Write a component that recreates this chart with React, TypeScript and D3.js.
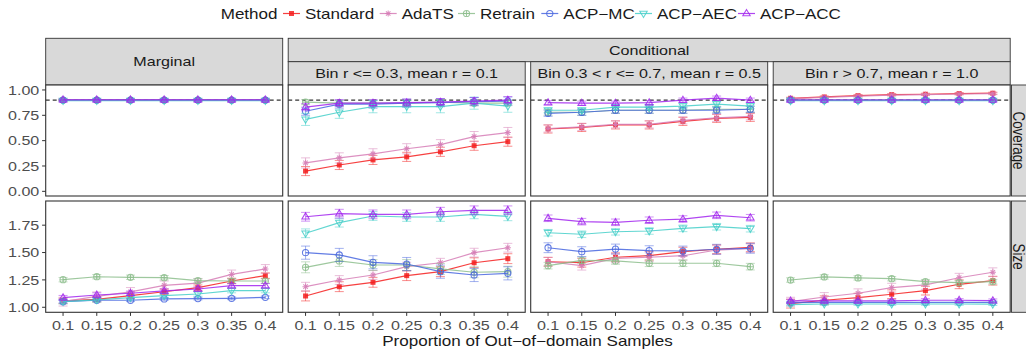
import React, { useEffect } from "react";
import * as d3 from "d3";

// ---------------- data ----------------
const methods = ["Standard", "AdaTS", "Retrain", "ACP−MC", "ACP−AEC", "ACP−ACC"];
const methodColors = ["#F41E1E", "#D67DB6", "#8DBE8D", "#4866DF", "#45CFC9", "#A226EE"];
const methodShapes = ["square", "asterisk", "circleplus", "circle", "triangleDown", "triangleUp"];
const xLabels = ["0.1", "0.15", "0.2", "0.25", "0.3", "0.35", "0.4"];
const panelTitles = ["Bin r <= 0.3, mean r = 0.1", "Bin 0.3 < r <= 0.7, mean r = 0.5", "Bin r > 0.7, mean r = 1.0"];
const covTicks = [0, 0.25, 0.5, 0.75, 1.0];
const sizeTicks = [1.0, 1.25, 1.5, 1.75];
const targetCoverage = 0.9;

// coverage, rows in methods order
const covMarginal = [
  [0.9, 0.9, 0.9, 0.9, 0.9, 0.9, 0.9],
  [0.9, 0.9, 0.9, 0.9, 0.9, 0.9, 0.9],
  [0.9, 0.9, 0.9, 0.9, 0.9, 0.9, 0.9],
  [0.9, 0.9, 0.9, 0.9, 0.9, 0.9, 0.9],
  [0.895, 0.895, 0.895, 0.895, 0.895, 0.895, 0.895],
  [0.903, 0.903, 0.903, 0.903, 0.903, 0.903, 0.903],
];
const covMarginalErr = [0.008, 0.008, 0.008, 0.008, 0.008, 0.008];
const covBin1 = [
  [0.2, 0.26, 0.31, 0.34, 0.39, 0.45, 0.49],
  [0.28, 0.33, 0.37, 0.42, 0.46, 0.54, 0.58],
  [0.88, 0.87, 0.87, 0.87, 0.88, 0.87, 0.87],
  [0.79, 0.86, 0.86, 0.87, 0.875, 0.885, 0.89],
  [0.71, 0.78, 0.835, 0.835, 0.835, 0.87, 0.84],
  [0.83, 0.87, 0.87, 0.875, 0.88, 0.89, 0.9],
];
const covBin1Err = [0.045, 0.05, 0.025, 0.04, 0.06, 0.035];
const covBin2 = [
  [0.615, 0.63, 0.655, 0.655, 0.69, 0.72, 0.73],
  [0.62, 0.635, 0.66, 0.66, 0.7, 0.725, 0.74],
  [0.78, 0.78, 0.8, 0.8, 0.8, 0.81, 0.81],
  [0.77, 0.78, 0.8, 0.8, 0.8, 0.8, 0.81],
  [0.8, 0.8, 0.83, 0.83, 0.84, 0.86, 0.84],
  [0.875, 0.87, 0.87, 0.875, 0.9, 0.92, 0.9],
];
const covBin2Err = [0.04, 0.035, 0.03, 0.03, 0.025, 0.02];
const covBin3 = [
  [0.918, 0.931, 0.944, 0.954, 0.958, 0.964, 0.968],
  [0.915, 0.926, 0.94, 0.95, 0.955, 0.96, 0.963],
  [0.9, 0.9, 0.9, 0.9, 0.9, 0.9, 0.9],
  [0.9, 0.9, 0.9, 0.9, 0.9, 0.9, 0.9],
  [0.894, 0.894, 0.894, 0.894, 0.894, 0.894, 0.894],
  [0.901, 0.901, 0.901, 0.901, 0.901, 0.901, 0.901],
];
const covBin3Err = [0.01, 0.01, 0.008, 0.008, 0.008, 0.008];

// size
const sizeMarginal = [
  [1.058, 1.073, 1.106, 1.142, 1.179, 1.24, 1.289],
  [1.051, 1.1, 1.14, 1.2, 1.22, 1.3, 1.35],
  [1.252, 1.279, 1.274, 1.27, 1.243, 1.24, 1.24],
  [1.051, 1.064, 1.064, 1.076, 1.079, 1.082, 1.091],
  [1.051, 1.067, 1.088, 1.106, 1.121, 1.152, 1.152],
  [1.088, 1.112, 1.128, 1.149, 1.167, 1.197, 1.197],
];
const sizeMarginalErr = [0.025, 0.04, 0.02, 0.012, 0.02, 0.02];
const sizeBin1 = [
  [1.103, 1.188, 1.228, 1.289, 1.325, 1.407, 1.444],
  [1.188, 1.249, 1.295, 1.371, 1.407, 1.499, 1.544],
  [1.365, 1.423, 1.386, 1.386, 1.35, 1.32, 1.325],
  [1.499, 1.478, 1.411, 1.395, 1.325, 1.295, 1.31],
  [1.676, 1.773, 1.834, 1.825, 1.825, 1.849, 1.831],
  [1.827, 1.855, 1.849, 1.849, 1.873, 1.886, 1.886],
];
const sizeBin1Err = [0.045, 0.04, 0.05, 0.06, 0.04, 0.04];
const sizeBin2 = [
  [1.416, 1.407, 1.457, 1.471, 1.508, 1.53, 1.548],
  [1.416, 1.38, 1.447, 1.457, 1.471, 1.523, 1.539],
  [1.38, 1.429, 1.423, 1.402, 1.402, 1.402, 1.371],
  [1.544, 1.508, 1.532, 1.517, 1.514, 1.53, 1.539],
  [1.681, 1.667, 1.69, 1.697, 1.721, 1.736, 1.718],
  [1.813, 1.782, 1.776, 1.795, 1.806, 1.84, 1.818],
];
const sizeBin2Err = [0.04, 0.04, 0.03, 0.045, 0.03, 0.03];
const sizeBin3 = [
  [1.033, 1.064, 1.088, 1.119, 1.152, 1.21, 1.243],
  [1.051, 1.094, 1.128, 1.179, 1.204, 1.27, 1.32],
  [1.249, 1.277, 1.268, 1.261, 1.234, 1.225, 1.234],
  [1.042, 1.045, 1.045, 1.045, 1.045, 1.045, 1.045],
  [1.025, 1.03, 1.03, 1.03, 1.03, 1.03, 1.028],
  [1.058, 1.058, 1.058, 1.058, 1.064, 1.064, 1.061],
];
const sizeBin3Err = [0.04, 0.04, 0.02, 0.012, 0.012, 0.015];

// ---------------- layout ----------------
const W = 1026;
const H = 356;
const SX = 1.2; // horizontal text stretch of the reference
const FONT = "'Liberation Sans', Arial, Helvetica, sans-serif";
const panelLefts = [45.7, 288.2, 530.7, 773.2];
const panelW = 237;
const covTop = 85, covBottom = 196;
const sizeTop = 201, sizeBottom = 312.3;
const stripTop = 38.3, stripMid = 61.7;

const covData = [covMarginal, covBin1, covBin2, covBin3];
const covErr = [covMarginalErr, covBin1Err, covBin2Err, covBin3Err];
const sizeData = [sizeMarginal, sizeBin1, sizeBin2, sizeBin3];
const sizeErr = [sizeMarginalErr, sizeBin1Err, sizeBin2Err, sizeBin3Err];

const yCov = d3.scaleLinear().domain([-0.046, 1.049]).range([covBottom, covTop]);
const ySize = d3.scaleLinear().domain([0.954, 1.971]).range([sizeBottom, sizeTop]);

function T(props: any) {
  const { x, y, anchor = "start", size = 13.4, color = "#1a1a1a", rotate, dy, children } = props;
  return (
    <text
      transform={`translate(${x},${y}) scale(${SX},1)${rotate ? ` rotate(${rotate})` : ""}`}
      textAnchor={anchor}
      fontSize={size}
      fill={color}
      fontFamily={FONT}
      dy={dy}
    >
      {children}
    </text>
  );
}

function Marker({ shape, x, y, color }: any) {
  const r = 3.1;
  const sw = 1.05;
  if (shape === "square")
    return <rect x={x - 2.5} y={y - 2.5} width={5} height={5} fill={color} />;
  if (shape === "asterisk") {
    const d = r * 0.72;
    return (
      <path
        d={`M${x - r},${y}L${x + r},${y}M${x},${y - r}L${x},${y + r}M${x - d},${y - d}L${x + d},${y + d}M${x - d},${y + d}L${x + d},${y - d}`}
        stroke={color}
        strokeWidth={sw}
        fill="none"
      />
    );
  }
  if (shape === "circleplus")
    return (
      <g stroke={color} strokeWidth={sw} fill="none">
        <circle cx={x} cy={y} r={r} />
        <path d={`M${x - r},${y}L${x + r},${y}M${x},${y - r}L${x},${y + r}`} />
      </g>
    );
  if (shape === "circle")
    return <circle cx={x} cy={y} r={r} stroke={color} strokeWidth={sw} fill="none" />;
  const s = 3.9;
  if (shape === "triangleUp")
    return (
      <path
        d={`M${x},${y - s}L${x + s * 0.95},${y + s * 0.6}L${x - s * 0.95},${y + s * 0.6}Z`}
        stroke={color}
        strokeWidth={sw}
        fill="none"
      />
    );
  return (
    <path
      d={`M${x},${y + s}L${x + s * 0.95},${y - s * 0.6}L${x - s * 0.95},${y - s * 0.6}Z`}
      stroke={color}
      strokeWidth={sw}
      fill="none"
    />
  );
}

function Panel({ left, top, bottom, yScale, values, errs, dashed }: any) {
  const x = d3.scaleLinear().domain([-0.515, 6.515]).range([left, left + panelW]);
  const line = d3
    .line<number>()
    .x((_, i) => x(i))
    .y((v) => yScale(v));
  return (
    <g>
      <rect x={left} y={top} width={panelW} height={bottom - top} fill="#fff" />
      {dashed && (
        <line
          x1={left}
          x2={left + panelW}
          y1={yScale(targetCoverage)}
          y2={yScale(targetCoverage)}
          stroke="#000"
          strokeWidth={1}
          strokeDasharray="4,3"
        />
      )}
      {values.map((series: number[], m: number) => (
        <g key={m}>
          <g stroke={methodColors[m]} strokeOpacity={0.5} strokeWidth={1}>
            {series.map((v, i) => {
              const e = errs[m];
              const xi = x(i);
              const y1 = yScale(v - e);
              const y2 = yScale(v + e);
              return (
                <path
                  key={i}
                  d={`M${xi},${y1}L${xi},${y2}M${xi - 4.5},${y1}L${xi + 4.5},${y1}M${xi - 4.5},${y2}L${xi + 4.5},${y2}`}
                  fill="none"
                />
              );
            })}
          </g>
          <path d={line(series) || ""} fill="none" stroke={methodColors[m]} strokeWidth={1.2} strokeOpacity={0.85} />
          <g opacity={0.85}>
            {series.map((v, i) => (
              <Marker key={i} shape={methodShapes[m]} x={x(i)} y={yScale(v)} color={methodColors[m]} />
            ))}
          </g>
        </g>
      ))}
      <rect x={left} y={top} width={panelW} height={bottom - top} fill="none" stroke="#333" strokeWidth={1.1} />
    </g>
  );
}

const legendTextX = [305, 401.7, 480, 563.3, 657, 760];

export default function App() {
  useEffect(() => {
    document.body.style.margin = "0";
  }, []);
  const xTickScale = (left: number) => d3.scaleLinear().domain([-0.515, 6.515]).range([left, left + panelW]);
  return (
    <svg width={W} height={H} style={{ position: "absolute", left: 0, top: 0 }} xmlns="http://www.w3.org/2000/svg">
      <rect x={0} y={0} width={W} height={H} fill="#fff" />
      {/* legend */}
      <T x={220.7} y={19.3} size={14.2}>Method</T>
      {methods.map((m, k) => {
        const tx = legendTextX[k];
        const cx = tx - 13.5;
        return (
          <g key={m}>
            <line x1={cx - 8.5} x2={cx + 8.5} y1={13.5} y2={13.5} stroke={methodColors[k]} strokeWidth={1.2} strokeOpacity={0.85} />
            <g opacity={0.85}>
              <Marker shape={methodShapes[k]} x={cx} y={13.5} color={methodColors[k]} />
            </g>
            <T x={tx} y={19.3} size={14.2}>{m}</T>
          </g>
        );
      })}

      {/* strips */}
      <rect x={panelLefts[0]} y={stripTop} width={panelW} height={covTop - stripTop} fill="#D9D9D9" stroke="#333" strokeWidth={0.9} />
      <T x={panelLefts[0] + panelW / 2} y={(stripTop + covTop) / 2} dy="0.36em" anchor="middle">Marginal</T>
      <rect
        x={panelLefts[1]}
        y={stripTop}
        width={panelLefts[3] + panelW - panelLefts[1]}
        height={stripMid - stripTop}
        fill="#D9D9D9"
        stroke="#333"
        strokeWidth={0.9}
      />
      <T x={(panelLefts[1] + panelLefts[3] + panelW) / 2} y={(stripTop + stripMid) / 2} dy="0.36em" anchor="middle">
        Conditional
      </T>
      {panelTitles.map((t, k) => (
        <g key={t}>
          <rect x={panelLefts[k + 1]} y={stripMid} width={panelW} height={covTop - stripMid} fill="#D9D9D9" stroke="#333" strokeWidth={0.9} />
          <T x={panelLefts[k + 1] + panelW / 2} y={(stripMid + covTop) / 2} dy="0.36em" anchor="middle">{t}</T>
        </g>
      ))}
      <rect x={1011.5} y={covTop} width={30} height={covBottom - covTop} fill="#D9D9D9" stroke="#333" strokeWidth={0.9} />
      <T x={1013.3} y={(covTop + covBottom) / 2} anchor="middle" rotate={90}>Coverage</T>
      <rect x={1011.5} y={sizeTop} width={30} height={sizeBottom - sizeTop} fill="#D9D9D9" stroke="#333" strokeWidth={0.9} />
      <T x={1013.3} y={(sizeTop + sizeBottom) / 2} anchor="middle" rotate={90}>Size</T>

      {/* panels */}
      {panelLefts.map((left, p) => (
        <g key={p}>
          <Panel left={left} top={covTop} bottom={covBottom} yScale={yCov} values={covData[p]} errs={covErr[p]} dashed />
          <Panel left={left} top={sizeTop} bottom={sizeBottom} yScale={ySize} values={sizeData[p]} errs={sizeErr[p]} />
        </g>
      ))}

      {/* y axes */}
      {covTicks.map((t) => (
        <g key={"c" + t}>
          <line x1={42.1} x2={panelLefts[0]} y1={yCov(t)} y2={yCov(t)} stroke="#333" strokeWidth={1} />
          <T x={39.3} y={yCov(t)} dy="0.36em" anchor="end" color="#4D4D4D">{t.toFixed(2)}</T>
        </g>
      ))}
      {sizeTicks.map((t) => (
        <g key={"s" + t}>
          <line x1={42.1} x2={panelLefts[0]} y1={ySize(t)} y2={ySize(t)} stroke="#333" strokeWidth={1} />
          <T x={39.3} y={ySize(t)} dy="0.36em" anchor="end" color="#4D4D4D">{t.toFixed(2)}</T>
        </g>
      ))}

      {/* x axes */}
      {panelLefts.map((left, p) => {
        const xs = xTickScale(left);
        return (
          <g key={"x" + p}>
            {xLabels.map((lab, i) => (
              <g key={lab}>
                <line x1={xs(i)} x2={xs(i)} y1={sizeBottom} y2={sizeBottom + 3.6} stroke="#333" strokeWidth={1} />
                <T x={xs(i)} y={330} anchor="middle" color="#4D4D4D">{lab}</T>
              </g>
            ))}
          </g>
        );
      })}
      <T x={527.5} y={346} anchor="middle" size={14.2}>Proportion of Out−of−domain Samples</T>
    </svg>
  );
}
